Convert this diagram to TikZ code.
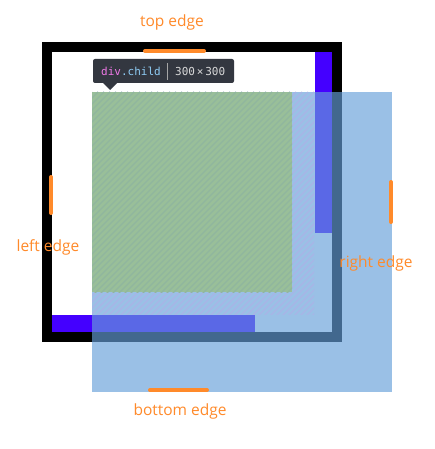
\documentclass[tikz,border=0pt]{standalone}
\usepackage{fontspec}
\setmainfont{Open Sans}
\newfontfamily\monof{DejaVu Sans Mono}
\definecolor{frameblk}{HTML}{000000}
\definecolor{indigo}{HTML}{4400FF}
\definecolor{lblue}{RGB}{102,160,218}
\definecolor{greenbox}{HTML}{99BF99}
\definecolor{greenline}{HTML}{90B69E}
\definecolor{hatchblue}{HTML}{A8B4E6}
\definecolor{orng}{HTML}{FF8A2A}
\definecolor{tipbg}{HTML}{333740}
\definecolor{tipdiv}{HTML}{EE78E6}
\definecolor{tipcls}{HTML}{8FCCF5}
\definecolor{tipgray}{HTML}{D9D9D9}
\tikzset{
  edgebar/.style={draw=orng, line width=4pt, line cap=round},
  edgelabel/.style={text=orng, font=\fontsize{15.5}{18}\selectfont, inner sep=0pt},
  hatchline/.style={line width=1.4pt},
}
\begin{document}
\begin{tikzpicture}[x=1pt,y=-1pt]
\useasboundingbox[fill=white] (0,0) rectangle (434,449);
% parent frame
\fill[frameblk] (42,42) rectangle (342,342);
\fill[white] (52,52) rectangle (332,332);
\fill[indigo] (315,52) rectangle (332,233);
\fill[indigo] (52,315) rectangle (255,332);
% child box
\fill[lblue, fill opacity=0.655] (92,92) rectangle (392,392);
\begin{scope}
  \clip (92,92) rectangle (314,314);
  \foreach \k in {0,6,...,450} {
    \draw[hatchline, hatchblue] (92+\k-230,322) -- (92+\k,92);
  }
\end{scope}
\fill[greenbox] (92,92) rectangle (292,292);
\begin{scope}
  \clip (92,92) rectangle (292,292);
  \foreach \k in {0,6,...,450} {
    \draw[hatchline, greenline] (92+\k-230,322) -- (92+\k,92);
  }
\end{scope}
% edge markers
\coordinate (t1) at (145,51); \coordinate (t2) at (204,51);
\coordinate (l1) at (51,177); \coordinate (l2) at (51,213);
\coordinate (r1) at (391,182); \coordinate (r2) at (391,222);
\coordinate (b1) at (150,390); \coordinate (b2) at (207,390);
\draw[edgebar] (t1) -- (t2);
\draw[edgebar] (l1) -- (l2);
\draw[edgebar] (r1) -- (r2);
\draw[edgebar] (b1) -- (b2);
% labels
\node[edgelabel] (toplbl) at (172,22) {top edge};
\node[edgelabel] (leftlbl) at (48,247) {left edge};
\node[edgelabel] (rightlbl) at (376,263) {right edge};
\node[edgelabel] (botlbl) at (180,411) {bottom edge};
% tooltip
\fill[tipbg, rounded corners=2pt] (93,59) rectangle (234,83);
\fill[tipbg] (103,83) -- (117,83) -- (110,90) -- cycle;
\node[inner sep=0pt, anchor=west, font=\monof\fontsize{11}{13}\selectfont] (tipname) at (101,71.5) {\textcolor{tipdiv}{div}\textcolor{tipcls}{.child}};
\draw[gray!70, line width=0.8pt] (167,63) -- (167,80);
\node[inner sep=0pt, anchor=west, text=tipgray, font=\monof\fontsize{11}{13}\selectfont] (tipsize) at (175,71.5) {300\,×\,300};
\end{tikzpicture}
\end{document}
